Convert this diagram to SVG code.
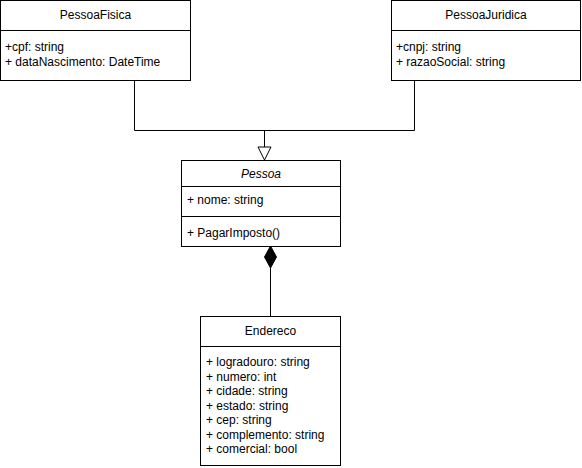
<svg xmlns="http://www.w3.org/2000/svg" width="582" height="468" viewBox="0 0 582 468">
<style>
.box{fill:#fff;stroke:#000;stroke-width:1}
.ln{fill:none;stroke:#000;stroke-width:1}
text{font-family:"Liberation Sans",Arial,sans-serif;font-size:12px;fill:#000}
.c{text-anchor:middle}
.i{font-style:italic}
</style>
<rect width="582" height="468" fill="#fff"/>
<g id="connectors">
<path class="ln" d="M134.5 80.5 V130.5 H414.5 V80.5"/>
<path class="ln" d="M264.5 130.5 V147"/>
<path d="M258 147 L271 147 L264.5 160 Z" fill="#fff" stroke="#000"/>
<path class="ln" d="M270.5 268 V316"/>
<path d="M270.5 246 L276.5 257 L270.5 268 L264.5 257 Z" fill="#000" stroke="#000"/>
</g>
<g id="PessoaFisica">
<rect class="box" x="0.5" y="0.5" width="190" height="80"/>
<line class="ln" x1="0.5" y1="30.5" x2="190.5" y2="30.5"/>
<text class="c" x="95.5" y="19">PessoaFisica</text>
<text x="5" y="51">+cpf: string</text>
<text x="5" y="66">+ dataNascimento: DateTime</text>
</g>
<g id="PessoaJuridica">
<rect class="box" x="391.5" y="0.5" width="189" height="80"/>
<line class="ln" x1="391.5" y1="30.5" x2="580.5" y2="30.5"/>
<text class="c" x="486" y="19">PessoaJuridica</text>
<text x="396" y="51">+cnpj: string</text>
<text x="396" y="66">+ razaoSocial: string</text>
</g>
<g id="Pessoa">
<rect class="box" x="181.5" y="160.5" width="159" height="86"/>
<line class="ln" x1="181.5" y1="186.5" x2="340.5" y2="186.5"/>
<line class="ln" x1="181.5" y1="216.5" x2="340.5" y2="216.5"/>
<text class="c i" x="261" y="178">Pessoa</text>
<text x="187" y="204">+ nome: string</text>
<text x="187" y="237">+ PagarImposto()</text>
</g>
<g id="Endereco">
<rect class="box" x="200.5" y="316.5" width="140" height="149"/>
<line class="ln" x1="200.5" y1="346.5" x2="340.5" y2="346.5"/>
<text class="c" x="270.5" y="335">Endereco</text>
<text x="206" y="366">+ logradouro: string</text>
<text x="206" y="380.5">+ numero: int</text>
<text x="206" y="395">+ cidade: string</text>
<text x="206" y="409.5">+ estado: string</text>
<text x="206" y="424">+ cep: string</text>
<text x="206" y="438.5">+ complemento: string</text>
<text x="206" y="453">+ comercial: bool</text>
</g>
</svg>
